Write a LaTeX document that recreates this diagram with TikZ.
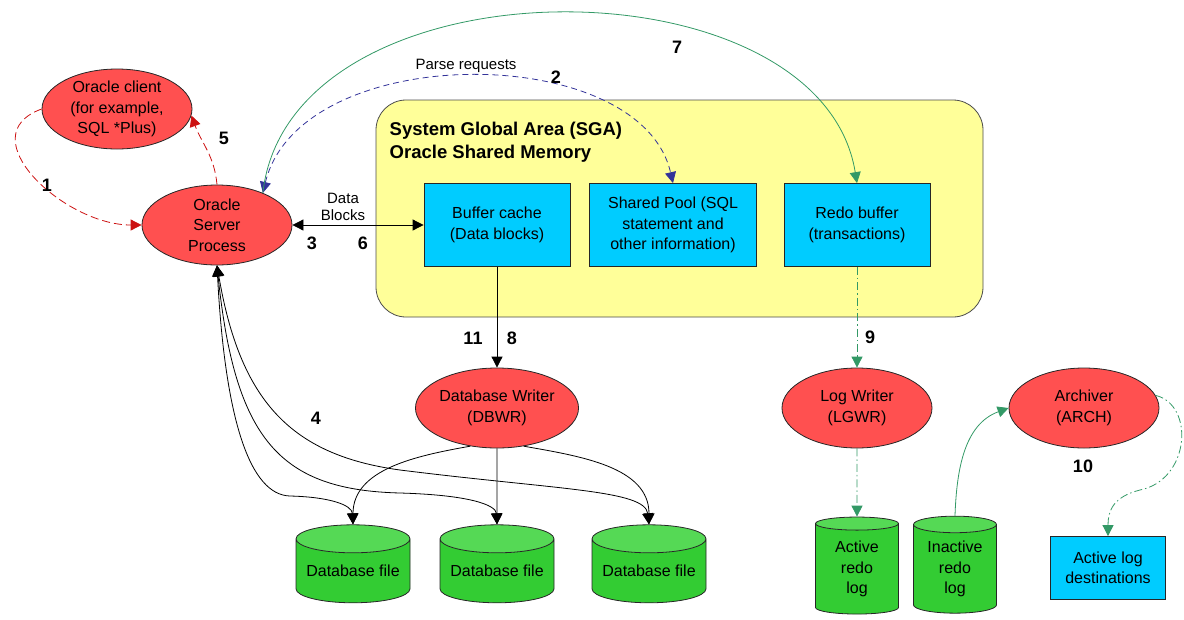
\documentclass[tikz,border=0pt]{standalone}
\usepackage{fontspec}
\setmainfont{Liberation Sans}
\usetikzlibrary{arrows.meta}
\usetikzlibrary{shapes.geometric}
\definecolor{procred}{HTML}{FF5050}
\definecolor{memblue}{HTML}{00CCFF}
\definecolor{sgayellow}{HTML}{FFFF99}
\definecolor{dbgreen}{HTML}{33CC33}
\definecolor{dbgreentop}{HTML}{55D955}
\definecolor{clientline}{HTML}{CC1111}
\definecolor{parseline}{HTML}{333399}
\definecolor{redoline}{HTML}{339966}
\tikzset{
  bodyfont/.style={font=\fontsize{16}{20.5}\selectfont},
  proc/.style={ellipse, draw=black!85, fill=procred, minimum width=150pt,
    minimum height=80pt, inner sep=0pt, align=center, bodyfont},
  membox/.style={rectangle, draw=black!85, fill=memblue, minimum width=146pt,
    minimum height=83pt, inner sep=0pt, align=center, bodyfont},
  dbfile/.style={cylinder, shape border rotate=90, draw=black!85,
    cylinder uses custom fill, cylinder body fill=dbgreen,
    cylinder end fill=dbgreentop, aspect=0.3, inner sep=0pt,
    align=center, bodyfont},
  stepnum/.style={font=\fontsize{18}{18}\selectfont\bfseries},
  smalltext/.style={font=\fontsize{15}{17}\selectfont, align=center},
  headarrow/.style={-{Triangle[width=11pt,length=11pt]}},
  bothheads/.style={{Triangle[width=11pt,length=11pt]}-{Triangle[width=11pt,length=11pt]}},
  dashdot/.style={dash pattern=on 8pt off 3pt on 1.5pt off 3pt}
}
\begin{document}
\begin{tikzpicture}[x=1pt, y=-1pt, line width=0.8pt]
\useasboundingbox (0,0) rectangle (1184,619);
% shared memory
\draw[draw=black!70, fill=sgayellow, rounded corners=30pt] (376,100) rectangle (983,317);
\node[anchor=west, font=\fontsize{18.5}{23}\selectfont\bfseries, align=left] (sga) at (386,142)
  {System Global Area (SGA)\\Oracle Shared Memory};
% processes
\node[proc] (cli) at (117,109) {Oracle client\\(for example,\\SQL *Plus)};
\node[proc] (srv) at (217,225) {Oracle\\Server\\Process};
\node[proc] (dbwr) at (497,408) {Database Writer\\(DBWR)};
\node[proc] (lgwr) at (857,408) {Log Writer\\(LGWR)};
\node[proc] (arch) at (1084,408) {Archiver\\(ARCH)};
% memory areas
\node[membox] (buf) at (497,225) {Buffer cache\\(Data blocks)};
\node[membox, minimum width=167pt] (pool) at (673,225) {Shared Pool (SQL\\statement and\\other information)};
\node[membox] (redo) at (857,225) {Redo buffer\\(transactions)};
\node[membox, minimum width=115pt, minimum height=63pt] (dest) at (1108,568) {Active log\\destinations};
% files
\foreach \n/\x in {df1/353, df2/497, df3/649}
  \node[dbfile, minimum width=114pt, minimum height=78pt] (\n) at (\x,571) {Database file};
\node[dbfile, minimum width=83pt, minimum height=97pt] (arl) at (857,569) {Active\\redo\\log};
\node[dbfile, minimum width=83pt, minimum height=97pt] (irl) at (955,569) {Inactive\\redo\\log};
% client connection
\draw[clientline, dash pattern=on 8pt off 4pt, headarrow] (cli.west) to[out=200, in=180, looseness=1.3] (srv.west);
\draw[clientline, dash pattern=on 8pt off 4pt, headarrow] (srv.north) to[out=95, in=-70] (cli.-5);
% parse requests and redo entries
\draw[parseline, dash pattern=on 6pt off 4pt, bothheads] (srv.35) .. controls (300,40) and (640,40) .. (pool.north);
\draw[redoline, headarrow] (srv.35) .. controls (290,-45) and (820,-45) .. (redo.north);
% data blocks
\draw[bothheads] (srv.east) -- (buf.west);
\draw[headarrow] (buf.south) -- (dbwr.north);
\draw[headarrow] (dbwr.235) to[out=190, in=90] (df1.north);
\draw[headarrow] (dbwr.south) -- (df2.north);
\draw[headarrow] (dbwr.-55) to[out=-10, in=90] (df3.north);
% reads from the files
\draw[bothheads] (srv.south) .. controls (225,420) and (250,495) .. (290,496)
  .. controls (330,497) and (352,505) .. (df1.north);
\draw[bothheads] (srv.south) .. controls (235,440) and (280,490) .. (400,493)
  .. controls (470,495) and (496,505) .. (df2.north);
\draw[bothheads] (srv.south) .. controls (240,400) and (290,455) .. (400,470)
  .. controls (560,490) and (645,490) .. (df3.north);
% redo log
\draw[redoline, dashdot, headarrow] (redo.south) -- (lgwr.north);
\draw[redoline, dashdot, headarrow] (lgwr.south) -- (arl.north);
\draw[redoline, headarrow] (irl.north) to[out=88, in=200] (arch.west);
\draw[redoline, dashdot, headarrow] (arch.10) .. controls (1195,405) and (1190,480) .. (1140,490)
  .. controls (1112,497) and (1108,512) .. (dest.north);
% annotations
\node[smalltext] (parse) at (466,66) {Parse requests};
\node[smalltext] (blocks) at (343,207) {Data\\Blocks};
\node[stepnum] (s1) at (47,185) {1};
\node[stepnum] (s2) at (556,77) {2};
\node[stepnum] (s3) at (312,243) {3};
\node[stepnum] (s4) at (316,418) {4};
\node[stepnum] (s5) at (224,138) {5};
\node[stepnum] (s6) at (363,243) {6};
\node[stepnum] (s7) at (677,47) {7};
\node[stepnum] (s8) at (512,338) {8};
\node[stepnum] (s9) at (870,337) {9};
\node[stepnum] (s10) at (1083,466) {10};
\node[stepnum] (s11) at (473,338) {11};
\end{tikzpicture}
\end{document}
